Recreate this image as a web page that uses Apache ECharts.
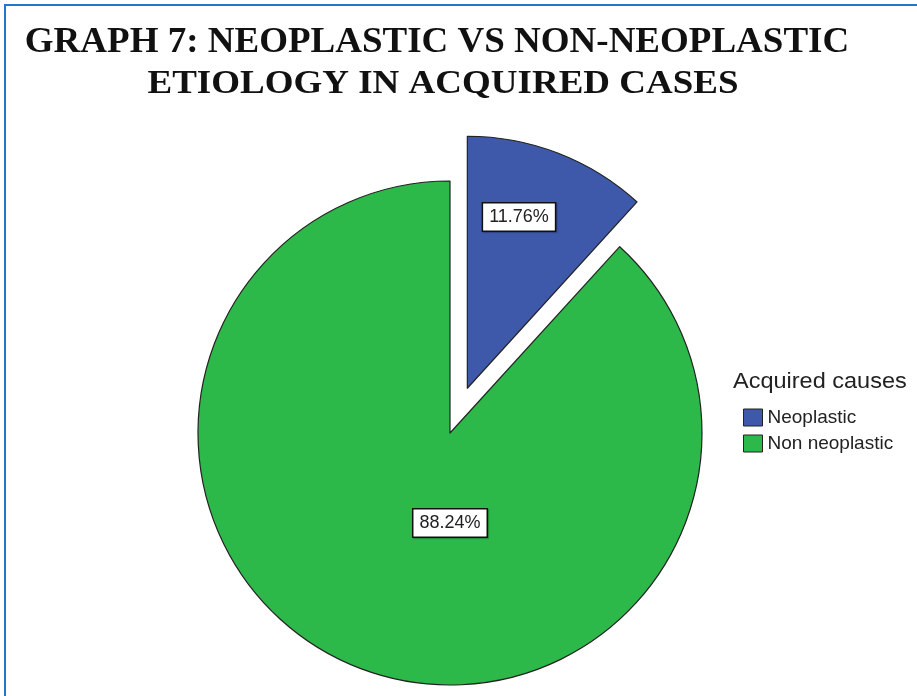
<!DOCTYPE html>
<html>
<head>
<meta charset="utf-8">
<script src="https://cdn.jsdelivr.net/npm/echarts@6/dist/echarts.min.js"></script>
<style>
  html, body { margin: 0; padding: 0; background: #ffffff; }
  #chart { width: 917px; height: 696px; }
</style>
</head>
<body>
<div id="chart"></div>
<script>
// Acquired cases split by etiology (percent of cases)
const categories = ['Neoplastic', 'Non neoplastic'];
const percentages = [11.76, 88.24];
const sliceColors = ['#3e58aa', '#2db84a'];
const titleLines = ['GRAPH 7: NEOPLASTIC VS NON-NEOPLASTIC', 'ETIOLOGY IN ACQUIRED CASES'];
const legendTitle = 'Acquired causes';

const chart = echarts.init(document.getElementById('chart'), null, { renderer: 'canvas' });

const pieCenter = [450, 433];
const pieRadius = 252;
const explodeDistance = 48;       // the neoplastic slice is pulled out of the pie
const explodedIndex = 0;

// centre of the pulled-out slice: shifted along its mid angle
const total = percentages.reduce((a, b) => a + b, 0);
const midDeg = (percentages[explodedIndex] / total) * 360 / 2;   // clockwise from 12 o'clock
const midRad = midDeg * Math.PI / 180;
const explodedCenter = [
  pieCenter[0] + explodeDistance * Math.sin(midRad),
  pieCenter[1] - explodeDistance * Math.cos(midRad)
];

// label anchor positions relative to each slice's own centre, in units of the radius
const labelAnchors = [[0.205, -0.68], [0, 0.357]];

const titleFont = 'bold 37px "Liberation Serif", "Times New Roman", serif';
const hidden = { color: 'rgba(0,0,0,0)', borderWidth: 0 };

function pieSeries(center, visibleIndex) {
  return {
    type: 'pie',
    center: center,
    radius: pieRadius,
    startAngle: 90,
    clockwise: true,
    silent: true,
    emphasis: { disabled: true },
    itemStyle: { borderColor: '#222', borderWidth: 1.2 },
    label: {
      show: true,
      position: 'inside',
      formatter: p => p.value.toFixed(2) + '%',
      fontFamily: '"Liberation Sans", Arial, sans-serif',
      fontSize: 18,
      color: '#222',
      backgroundColor: '#ffffff',
      borderColor: '#111',
      borderWidth: 1.5,
      padding: [5, 6, 4, 6],
      shadowColor: 'rgba(0,0,0,0.25)',
      shadowOffsetX: 1,
      shadowOffsetY: 1,
      shadowBlur: 1
    },
    labelLine: { show: false },
    labelLayout: function (params) {
      const a = labelAnchors[params.dataIndex];
      return {
        x: center[0] + a[0] * pieRadius,
        y: center[1] + a[1] * pieRadius,
        align: 'center',
        verticalAlign: 'middle'
      };
    },
    data: categories.map((name, i) => (i === visibleIndex
      ? { name: name, value: percentages[i], itemStyle: { color: sliceColors[i] } }
      : { name: name, value: percentages[i], itemStyle: hidden, label: { show: false } }))
  };
}

const option = {
  animation: false,
  graphic: [
    {
      type: 'rect',
      shape: { x: 5, y: 5, width: 960, height: 760 },
      style: { fill: 'none', stroke: '#1f78cf', lineWidth: 2 },
      silent: true
    },
    {
      type: 'text',
      x: 437, y: 43,
      scaleY: 0.95,
      style: {
        text: titleLines[0],
        font: titleFont,
        fill: '#111',
        align: 'center',
        verticalAlign: 'middle'
      },
      silent: true
    },
    {
      type: 'text',
      x: 443, y: 84,
      scaleY: 0.93,
      style: {
        text: titleLines[1],
        font: titleFont,
        fill: '#111',
        align: 'center',
        verticalAlign: 'middle'
      },
      silent: true
    },
    {
      type: 'text',
      x: 733, y: 382,
      scaleY: 0.92,
      style: {
        text: legendTitle,
        font: '23.5px "Liberation Sans", Arial, sans-serif',
        fill: '#222',
        align: 'left',
        verticalAlign: 'middle'
      },
      silent: true
    }
  ],
  legend: {
    orient: 'vertical',
    left: 743,
    top: 408,
    padding: 0,
    icon: 'rect',
    itemWidth: 19,
    itemHeight: 17,
    itemGap: 7,
    selectedMode: false,
    textStyle: {
      fontFamily: '"Liberation Sans", Arial, sans-serif',
      fontSize: 19,
      color: '#222'
    },
    data: categories.map((name, i) => ({
      name: name,
      itemStyle: { color: sliceColors[i], borderColor: '#222', borderWidth: 1 }
    }))
  },
  series: [
    pieSeries(pieCenter, 1),
    pieSeries(explodedCenter, explodedIndex)
  ]
};

chart.setOption(option);
</script>
</body>
</html>
